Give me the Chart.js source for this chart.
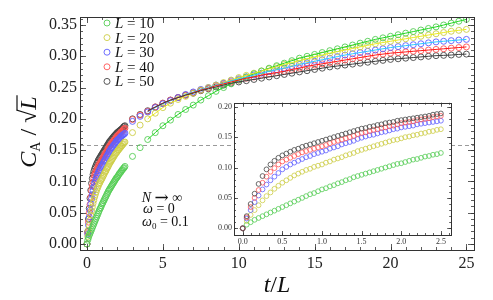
<!DOCTYPE html>
<html>
<head>
<meta charset="utf-8">
<script src="https://cdn.jsdelivr.net/npm/chart.js@4.4.1/dist/chart.umd.min.js"></script>
<style>
  html, body { margin: 0; padding: 0; background: #fff; }
  #wrap { position: relative; width: 493px; height: 300px; }
  #mainChart { position: absolute; left: 0; top: 0; }
  #insetChart { position: absolute; left: 198px; top: 96px; }
</style>
</head>
<body>
<div id="wrap">
  <canvas id="mainChart" width="493" height="300"></canvas>
  <canvas id="insetChart" width="258" height="152"></canvas>
</div>
<script>
// time grid (t/L) of the dense early-time points and of the sparse late-time points
const tShort = [0, 0.05, 0.1, 0.15, 0.2, 0.25, 0.3, 0.35, 0.4, 0.45, 0.5, 0.55, 0.6, 0.65, 0.7, 0.75, 0.8, 0.85, 0.9, 0.95,
  1, 1.05, 1.1, 1.15, 1.2, 1.25, 1.3, 1.35, 1.4, 1.45, 1.5, 1.55, 1.6, 1.65, 1.7, 1.75, 1.8, 1.85, 1.9, 1.95,
  2, 2.05, 2.1, 2.15, 2.2, 2.25, 2.3, 2.35, 2.4, 2.45, 2.5];
const tLong = [3, 3.5, 4, 4.5, 5, 5.5, 6, 6.5, 7, 7.5, 8, 8.5, 9, 9.5, 10, 10.5, 11, 11.5, 12, 12.5, 13, 13.5,
  14, 14.5, 15, 15.5, 16, 16.5, 17, 17.5, 18, 18.5, 19, 19.5, 20, 20.5, 21, 21.5, 22, 22.5, 23, 23.5, 24, 24.5, 25];

// C_A / sqrt(L)
const l10Short = [0, 0.006, 0.010, 0.014, 0.017, 0.020, 0.023, 0.026, 0.029, 0.032, 0.035, 0.038, 0.041, 0.044, 0.047,
  0.050, 0.053, 0.056, 0.058, 0.061, 0.064, 0.066, 0.069, 0.071, 0.074, 0.076, 0.079, 0.081, 0.084, 0.086, 0.088,
  0.090, 0.092, 0.094, 0.096, 0.098, 0.100, 0.102, 0.104, 0.106, 0.107, 0.109, 0.111, 0.113, 0.114, 0.116, 0.118,
  0.119, 0.121, 0.122, 0.124];
const l20Short = [0, 0.012, 0.022, 0.030, 0.038, 0.046, 0.053, 0.059, 0.065, 0.070, 0.075, 0.079, 0.083, 0.087, 0.090,
  0.093, 0.096, 0.098, 0.101, 0.103, 0.105, 0.108, 0.110, 0.113, 0.115, 0.117, 0.120, 0.122, 0.124, 0.127, 0.129,
  0.131, 0.133, 0.135, 0.137, 0.139, 0.141, 0.143, 0.145, 0.146, 0.148, 0.150, 0.151, 0.153, 0.154, 0.156, 0.157,
  0.159, 0.160, 0.162, 0.163];
const l30Short = [0, 0.016, 0.030, 0.043, 0.054, 0.064, 0.072, 0.079, 0.085, 0.091, 0.097, 0.101, 0.105, 0.108, 0.111,
  0.114, 0.117, 0.119, 0.122, 0.124, 0.126, 0.128, 0.131, 0.133, 0.135, 0.138, 0.140, 0.142, 0.144, 0.147, 0.149,
  0.151, 0.153, 0.154, 0.156, 0.158, 0.159, 0.161, 0.163, 0.164, 0.166, 0.167, 0.168, 0.169, 0.171, 0.172, 0.173,
  0.174, 0.175, 0.176, 0.177];
const l40Short = [0, 0.018, 0.035, 0.050, 0.063, 0.075, 0.085, 0.093, 0.099, 0.105, 0.110, 0.113, 0.116, 0.119, 0.122,
  0.125, 0.127, 0.129, 0.131, 0.133, 0.135, 0.137, 0.140, 0.142, 0.144, 0.146, 0.148, 0.150, 0.152, 0.155, 0.157,
  0.158, 0.160, 0.162, 0.163, 0.165, 0.166, 0.168, 0.169, 0.171, 0.173, 0.174, 0.175, 0.176, 0.178, 0.179, 0.180,
  0.181, 0.183, 0.184, 0.185];
const l50Short = [0, 0.020, 0.040, 0.057, 0.073, 0.086, 0.097, 0.105, 0.111, 0.116, 0.120, 0.123, 0.126, 0.129, 0.131,
  0.134, 0.136, 0.138, 0.140, 0.142, 0.144, 0.146, 0.148, 0.150, 0.152, 0.154, 0.156, 0.158, 0.160, 0.162, 0.164,
  0.165, 0.167, 0.168, 0.170, 0.171, 0.173, 0.174, 0.175, 0.177, 0.178, 0.179, 0.180, 0.181, 0.182, 0.183, 0.184,
  0.185, 0.187, 0.188, 0.189];

const l10Long = [0.140, 0.154, 0.167, 0.178, 0.189, 0.198, 0.207, 0.215, 0.222, 0.230, 0.237, 0.244, 0.250, 0.256,
  0.262, 0.267, 0.272, 0.2765, 0.281, 0.285, 0.289, 0.293, 0.297, 0.300, 0.303, 0.306, 0.309, 0.312, 0.315, 0.318,
  0.321, 0.324, 0.327, 0.3295, 0.332, 0.3345, 0.337, 0.3395, 0.342, 0.3445, 0.347, 0.350, 0.353, 0.356, 0.359];
const l20Long = [0.178, 0.190, 0.200, 0.209, 0.218, 0.225, 0.231, 0.236, 0.241, 0.246, 0.250, 0.254, 0.258, 0.262,
  0.266, 0.2695, 0.273, 0.2765, 0.280, 0.2835, 0.287, 0.290, 0.293, 0.296, 0.299, 0.302, 0.305, 0.3075, 0.310, 0.3125,
  0.315, 0.3175, 0.320, 0.322, 0.324, 0.326, 0.328, 0.330, 0.332, 0.334, 0.336, 0.338, 0.340, 0.3415, 0.343];
const l30Long = [0.196, 0.204, 0.211, 0.218, 0.224, 0.229, 0.234, 0.239, 0.243, 0.247, 0.250, 0.254, 0.257, 0.261,
  0.264, 0.267, 0.270, 0.273, 0.276, 0.2785, 0.281, 0.284, 0.287, 0.2895, 0.292, 0.2945, 0.297, 0.2995, 0.302, 0.304,
  0.306, 0.308, 0.310, 0.312, 0.314, 0.3155, 0.317, 0.3185, 0.320, 0.3215, 0.323, 0.324, 0.325, 0.326, 0.327];
const l40Long = [0.199, 0.206, 0.212, 0.219, 0.225, 0.230, 0.234, 0.238, 0.242, 0.246, 0.249, 0.253, 0.256, 0.259,
  0.262, 0.265, 0.267, 0.270, 0.272, 0.274, 0.276, 0.279, 0.281, 0.284, 0.286, 0.288, 0.290, 0.292, 0.294, 0.296,
  0.298, 0.300, 0.302, 0.3035, 0.305, 0.306, 0.307, 0.308, 0.309, 0.310, 0.311, 0.312, 0.313, 0.314, 0.315];
const l50Long = [0.200, 0.207, 0.213, 0.219, 0.225, 0.230, 0.234, 0.238, 0.241, 0.245, 0.248, 0.251, 0.254, 0.257,
  0.259, 0.261, 0.263, 0.265, 0.267, 0.269, 0.271, 0.273, 0.275, 0.277, 0.279, 0.281, 0.283, 0.2845, 0.286, 0.2875,
  0.289, 0.2905, 0.292, 0.2935, 0.295, 0.296, 0.297, 0.298, 0.299, 0.300, 0.301, 0.3015, 0.302, 0.303, 0.3035];

const sizes = ['10', '20', '30', '40', '50'];
const markColors = ['rgb(85,205,85)', 'rgb(205,205,70)', 'rgb(95,95,255)', 'rgb(255,85,85)', 'rgb(70,70,70)'];
const lineColors = ['rgb(30,215,30)', 'rgb(235,235,30)', 'rgb(40,200,255)', 'rgb(255,20,20)', 'rgb(60,60,60)'];
const shortVals = [l10Short, l20Short, l30Short, l40Short, l50Short];
const longVals = [l10Long, l20Long, l30Long, l40Long, l50Long];
const lineFrom = 4;          // solid curve drawn from t/L = 4 on
const guideLevel = 0.159;    // dashed level

const xTicksMain = [0, 5, 10, 15, 20, 25];
const yTicksMain = [0, 0.05, 0.1, 0.15, 0.2, 0.25, 0.3, 0.35];
const xTicksInset = [0, 0.5, 1, 1.5, 2, 2.5];
const yTicksInset = [0, 0.05, 0.1, 0.15, 0.2];

const SERIF = '"Liberation Serif", "DejaVu Serif", serif';

function pts(ts, vs) {
  return ts.map((t, i) => ({ x: t, y: vs[i] }));
}

// draw a row of text pieces with mixed fonts
function drawRuns(ctx, runs, x, y, align) {
  let w = 0;
  runs.forEach(r => { ctx.font = r.font; r.w = ctx.measureText(r.t).width; w += r.w; });
  let cx = align === 'center' ? x - w / 2 : x;
  runs.forEach(r => {
    ctx.font = r.font;
    ctx.fillText(r.t, cx, y + (r.dy || 0));
    if (r.over) {
      ctx.beginPath();
      ctx.lineWidth = 1.2;
      ctx.moveTo(cx - 1, y + r.over);
      ctx.lineTo(cx + r.w + 1, y + r.over);
      ctx.stroke();
    }
    cx += r.w;
  });
}

const frameTicks = {
  id: 'frameTicks',
  beforeDraw(chart, args, o) {
    if (!o.fill) return;
    const a = chart.chartArea;
    chart.ctx.save();
    chart.ctx.fillStyle = '#fff';
    chart.ctx.fillRect(a.left, a.top, a.right - a.left, a.bottom - a.top);
    chart.ctx.restore();
  },
  afterDraw(chart, args, o) {
    const { ctx, chartArea: a, scales: { x, y } } = chart;
    ctx.save();
    ctx.strokeStyle = '#333';
    ctx.lineWidth = 1;
    ctx.strokeRect(Math.round(a.left) + 0.5, Math.round(a.top) + 0.5,
      Math.round(a.right - a.left), Math.round(a.bottom - a.top));
    ctx.lineWidth = 0.8;
    ctx.beginPath();
    const xTick = (v, len) => {
      const px = Math.round(x.getPixelForValue(v)) + 0.5;
      ctx.moveTo(px, a.bottom); ctx.lineTo(px, a.bottom - len);
      ctx.moveTo(px, a.top); ctx.lineTo(px, a.top + len);
    };
    const yTick = (v, len) => {
      const py = Math.round(y.getPixelForValue(v)) + 0.5;
      ctx.moveTo(a.left, py); ctx.lineTo(a.left + len, py);
      ctx.moveTo(a.right, py); ctx.lineTo(a.right - len, py);
    };
    for (let v = o.xMinor[0]; v <= o.xMinor[1] + 1e-9; v += o.xMinor[2]) xTick(v, o.minor);
    for (let v = o.yMinor[0]; v <= o.yMinor[1] + 1e-9; v += o.yMinor[2]) yTick(v, o.minor);
    o.xMajor.forEach(v => xTick(v, o.major));
    o.yMajor.forEach(v => yTick(v, o.major));
    ctx.stroke();
    ctx.restore();
  }
};

const decorations = {
  id: 'decorations',
  beforeDatasetsDraw(chart) {
    const { ctx, chartArea: a, scales: { y } } = chart;
    const py = Math.round(y.getPixelForValue(guideLevel)) + 0.5;
    ctx.save();
    ctx.strokeStyle = '#9a9a9a';
    ctx.lineWidth = 1;
    ctx.setLineDash([4, 3]);
    ctx.beginPath();
    ctx.moveTo(a.left, py);
    ctx.lineTo(a.right, py);
    ctx.stroke();
    ctx.restore();
  },
  afterDraw(chart) {
    const ctx = chart.ctx;
    ctx.save();
    ctx.fillStyle = '#111';
    ctx.strokeStyle = '#111';
    ctx.textBaseline = 'alphabetic';

    // legend
    sizes.forEach((s, i) => {
      const yy = 23 + i * 14.6;
      ctx.beginPath();
      ctx.lineWidth = 0.9;
      ctx.strokeStyle = markColors[i];
      ctx.arc(107, yy, 3, 0, Math.PI * 2);
      ctx.stroke();
      ctx.fillStyle = '#111';
      drawRuns(ctx, [
        { t: 'L', font: 'italic 15px ' + SERIF },
        { t: ' = ' + s, font: '15px ' + SERIF }
      ], 115, yy + 5, 'left');
    });

    // parameters
    ctx.strokeStyle = '#111';
    drawRuns(ctx, [{ t: 'N ', font: 'italic 14px ' + SERIF }, { t: '\u2192', font: '17px "DejaVu Serif", serif', dy: 1 },
      { t: ' \u221E', font: '14px ' + SERIF }], 162, 202, 'center');
    drawRuns(ctx, [{ t: '\u03C9', font: 'italic 14px ' + SERIF }, { t: ' = 0', font: '14px ' + SERIF }], 143, 213, 'left');
    drawRuns(ctx, [{ t: '\u03C9', font: 'italic 14px ' + SERIF }, { t: '0', font: '9px ' + SERIF, dy: 3 },
      { t: ' = 0.1', font: '14px ' + SERIF }], 142, 226, 'left');

    // axis titles
    drawRuns(ctx, [
      { t: 't', font: 'italic 24px ' + SERIF },
      { t: '/', font: '24px ' + SERIF },
      { t: 'L', font: 'italic 24px ' + SERIF }
    ], 277, 292, 'center');

    ctx.translate(36, 132);
    ctx.rotate(-Math.PI / 2);
    drawRuns(ctx, [
      { t: 'C', font: 'italic 24px ' + SERIF },
      { t: 'A', font: '14px ' + SERIF, dy: 4 },
      { t: ' / ', font: '24px ' + SERIF },
      { t: '\u221A', font: '24px ' + SERIF },
      { t: 'L', font: 'italic 24px ' + SERIF, over: -19 }
    ], 0, 0, 'center');
    ctx.restore();
  }
};

function setTicks(list) {
  return scale => { scale.ticks = list.map(v => ({ value: v })); };
}

// main chart datasets: black drawn last (on top)
const mainSets = [];
for (let i = sizes.length - 1; i >= 0; i--) {
  const longPts = pts(tLong, longVals[i]);
  mainSets.push({
    label: 'L = ' + sizes[i],
    data: pts(tShort, shortVals[i]).concat(longPts),
    showLine: false,
    pointRadius: 3,
    pointBorderWidth: 0.9,
    pointBackgroundColor: 'rgba(0,0,0,0)',
    pointBorderColor: markColors[i],
    order: 2 + i
  });
  mainSets.push({
    label: 'curve ' + sizes[i],
    data: longPts.filter(p => p.x >= lineFrom),
    showLine: true,
    borderColor: lineColors[i],
    borderWidth: 1,
    pointRadius: 0,
    order: 1
  });
}

new Chart(document.getElementById('mainChart'), {
  type: 'scatter',
  data: { datasets: mainSets },
  options: {
    responsive: false,
    animation: false,
    layout: { padding: { top: 17, right: 19, left: 0, bottom: 0 } },
    plugins: {
      legend: { display: false },
      tooltip: { enabled: false },
      frameTicks: {
        xMajor: xTicksMain, yMajor: yTicksMain,
        xMinor: [0, 25, 1], yMinor: [0, 0.36, 0.01],
        major: 6, minor: 3
      }
    },
    scales: {
      x: {
        type: 'linear', min: -0.46, max: 25.5,
        grid: { display: false, drawTicks: false },
        border: { display: false },
        afterBuildTicks: setTicks(xTicksMain),
        afterFit: s => { s.height = 50; },
        ticks: { padding: 4, color: '#222', font: { family: SERIF, size: 16 }, maxRotation: 0,
          callback: v => String(v) }
      },
      y: {
        type: 'linear', min: -0.0096, max: 0.3628,
        grid: { display: false, drawTicks: false },
        border: { display: false },
        afterBuildTicks: setTicks(yTicksMain),
        afterFit: s => { s.width = 80; },
        ticks: { padding: 3, color: '#222', font: { family: SERIF, size: 16 },
          callback: v => Number(v).toFixed(2) }
      }
    }
  },
  plugins: [frameTicks, decorations]
});

// inset: early times only
const insetSets = [];
for (let i = sizes.length - 1; i >= 0; i--) {
  insetSets.push({
    label: 'L = ' + sizes[i],
    data: pts(tShort, shortVals[i]),
    showLine: false,
    pointRadius: 2.4,
    pointBorderWidth: 0.8,
    pointBackgroundColor: 'rgba(0,0,0,0)',
    pointBorderColor: markColors[i]
  });
}

new Chart(document.getElementById('insetChart'), {
  type: 'scatter',
  data: { datasets: insetSets },
  options: {
    responsive: false,
    animation: false,
    layout: { padding: { top: 5, right: 4, left: 0, bottom: 0 } },
    plugins: {
      legend: { display: false },
      tooltip: { enabled: false },
      frameTicks: {
        fill: true,
        xMajor: xTicksInset, yMajor: yTicksInset,
        xMinor: [0, 2.6, 0.1], yMinor: [0, 0.2, 0.01],
        major: 4, minor: 2
      }
    },
    scales: {
      x: {
        type: 'linear', min: -0.11, max: 2.63,
        grid: { display: false, drawTicks: false },
        border: { display: false },
        afterBuildTicks: setTicks(xTicksInset),
        afterFit: s => { s.height = 13; },
        ticks: { padding: 2, color: '#333', font: { family: SERIF, size: 8 }, maxRotation: 0,
          callback: v => Number(v).toFixed(1) }
      },
      y: {
        type: 'linear', min: -0.011, max: 0.2065,
        grid: { display: false, drawTicks: false },
        border: { display: false },
        afterBuildTicks: setTicks(yTicksInset),
        afterFit: s => { s.width = 36; },
        ticks: { padding: 2, color: '#333', font: { family: SERIF, size: 8 },
          callback: v => Number(v).toFixed(2) }
      }
    }
  },
  plugins: [frameTicks]
});
</script>
</body>
</html>
